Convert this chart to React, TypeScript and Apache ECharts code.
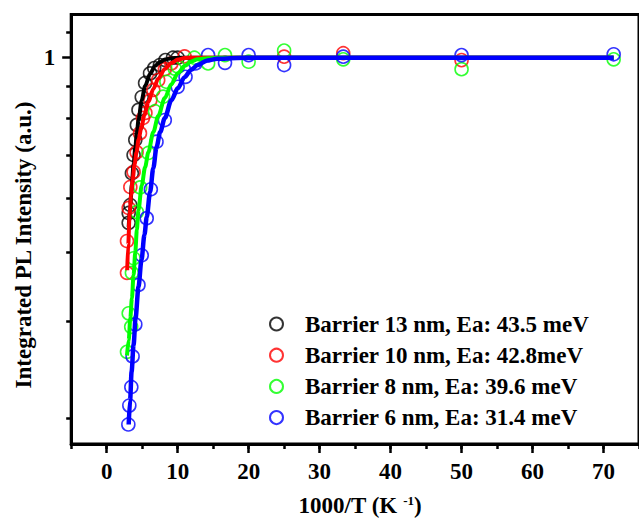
import React, { useEffect, useRef } from "react";
import * as echarts from "echarts";

// ---- data (x = 1000/T in K^-1, y = normalised integrated PL intensity) ----
const black13Points: [number, number][] = [
  [3.10, 0.552], [3.10, 0.571], [3.33, 0.587], [3.55, 0.656], [3.79, 0.700],
  [4.03, 0.739], [4.25, 0.780], [4.48, 0.824], [4.94, 0.864], [5.41, 0.910],
  [6.11, 0.943], [6.70, 0.962], [7.50, 0.973], [8.27, 0.991], [9.34, 1.0], [10.0, 1.0],
];
const red10Points: [number, number][] = [
  [2.86, 0.467], [2.86, 0.519], [3.10, 0.581], [3.33, 0.625], [3.79, 0.659],
  [4.21, 0.707], [4.69, 0.757], [5.11, 0.800], [5.46, 0.815], [6.15, 0.854],
  [6.57, 0.887], [7.26, 0.920], [8.19, 0.958], [9.11, 0.979], [10.97, 1.005],
  [25, 1.004], [33.33, 1.017], [50, 0.991],
];
const green8Points: [number, number][] = [
  [2.86, 0.364], [3.10, 0.410], [3.45, 0.393], [3.55, 0.467], [3.79, 0.490],
  [4.25, 0.573], [4.72, 0.624], [5.87, 0.705], [6.80, 0.820], [7.95, 0.865],
  [8.41, 0.914], [9.58, 0.960], [10.04, 0.967], [12.35, 1.0], [14.29, 0.979],
  [16.67, 1.010], [20, 0.985], [25, 1.027], [33.33, 0.994], [50, 0.958], [71.43, 0.994],
];
const blue6Points: [number, number][] = [
  [3.05, 0.295], [3.19, 0.311], [3.47, 0.328], [3.65, 0.359], [4.03, 0.396],
  [4.48, 0.449], [4.94, 0.495], [5.64, 0.561], [6.22, 0.620], [7.02, 0.734],
  [8.19, 0.794], [10.0, 0.897], [11.11, 0.931], [12.5, 0.979], [14.29, 1.010],
  [16.67, 0.981], [20, 1.010], [25, 0.973], [33.33, 1.004], [50, 1.010], [71.43, 1.013],
];

const black13Fit: [number, number][] = [
  [3.10, 0.544], [3.33, 0.587], [3.55, 0.631], [3.79, 0.677], [4.03, 0.718],
  [4.25, 0.757], [4.48, 0.794], [4.94, 0.854], [5.41, 0.900], [6.11, 0.941],
  [6.80, 0.969], [7.50, 0.984], [8.19, 0.993], [9.11, 0.998], [10.04, 0.999],
  [10.97, 1.0], [71.43, 1.0],
];
const red10Fit: [number, number][] = [
  [2.89, 0.471], [3.03, 0.512], [3.23, 0.567], [3.44, 0.608], [3.65, 0.640],
  [3.93, 0.677], [4.21, 0.707], [4.48, 0.739], [4.90, 0.774], [5.32, 0.809],
  [5.87, 0.848], [6.57, 0.890], [7.26, 0.924], [8.19, 0.959], [9.11, 0.980],
  [10.04, 0.993], [10.97, 0.999], [12.12, 1.0], [71.43, 1.0],
];
const green8Fit: [number, number][] = [
  [2.86, 0.360], [3.10, 0.377], [3.33, 0.404], [3.55, 0.430], [3.79, 0.464],
  [4.03, 0.500], [4.25, 0.539], [4.48, 0.577], [4.94, 0.629], [5.41, 0.670],
  [5.87, 0.707], [6.57, 0.760], [7.26, 0.806], [8.19, 0.861], [9.11, 0.906],
  [10.04, 0.944], [10.97, 0.969], [11.88, 0.986], [12.81, 0.994], [14.20, 0.998],
  [16.28, 1.0], [71.43, 1.0],
];
const blue6Fit: [number, number][] = [
  [3.10, 0.295], [3.30, 0.316], [3.51, 0.343], [3.79, 0.372], [4.07, 0.404],
  [4.48, 0.446], [4.90, 0.487], [5.32, 0.530], [5.64, 0.563], [6.11, 0.614],
  [6.57, 0.668], [7.02, 0.720], [7.54, 0.760], [8.19, 0.800], [9.11, 0.854],
  [10.04, 0.893], [10.97, 0.930], [11.88, 0.955], [12.81, 0.973], [14.20, 0.990],
  [15.59, 0.996], [18.36, 0.999], [21.14, 1.0], [71.43, 1.0],
];

const seriesNames = [
  "Barrier 13 nm, Ea: 43.5 meV",
  "Barrier 10 nm, Ea: 42.8meV",
  "Barrier 8 nm, Ea: 39.6 meV",
  "Barrier 6 nm, Ea: 31.4 meV",
];
const seriesColors = ["#000000", "#ff0000", "#00ff00", "#0000ff"];

const xMajorTicks = [0, 10, 20, 30, 40, 50, 60, 70];
const xRange = [-5, 75];
const yMinorTicks = [1.1, 0.9, 0.8, 0.7, 0.6, 0.5, 0.4, 0.3];
const yLabelTicks = [1];
const yRange = [0.27975, 1.17773];

// the y axis of the original uses an offset-log scale: log10(I - 0.1)
const OFFSET = 0.1;
const toAxis = (v: number) => Math.log10(v - OFFSET);

const FONT = '"Liberation Serif", "Times New Roman", serif';

export default function App() {
  const ref = useRef<HTMLDivElement>(null);

  useEffect(() => {
    document.body.style.margin = "0";
    const chart = echarts.init(ref.current!, null, { renderer: "svg" });
    const tr = (pts: [number, number][]) => pts.map((p) => [p[0], toAxis(p[1])]);
    const points = [black13Points, red10Points, green8Points, blue6Points];
    const fits = [black13Fit, red10Fit, green8Fit, blue6Fit];

    const series: any[] = [];
    for (let i = 0; i < 4; i++) {
      series.push({
        name: "fit" + i,
        type: "line",
        xAxisIndex: 0,
        yAxisIndex: 0,
        data: tr(fits[i]),
        showSymbol: false,
        smooth: 0.3,
        smoothMonotone: "x",
        lineStyle: { color: seriesColors[i], width: i === 3 ? 4.5 : 4 },
        silent: true,
      });
      series.push({
        name: seriesNames[i],
        type: "scatter",
        xAxisIndex: 0,
        yAxisIndex: 0,
        data: tr(points[i]),
        symbol: "circle",
        symbolSize: 13,
        itemStyle: {
          color: "rgba(0,0,0,0)",
          borderColor: seriesColors[i],
          borderWidth: 1.6,
        },
      });
    }

    const labelStyle = {
      color: "#000",
      fontFamily: FONT,
      fontWeight: "bold" as const,
      fontSize: 23,
    };

    chart.setOption({
      animation: false,
      backgroundColor: "#fff",
      grid: {
        left: 71.2,
        right: -8.5,
        top: 14.5,
        bottom: 74,
        show: true,
        borderColor: "#000",
        borderWidth: 3,
        containLabel: false,
      },
      legend: {
        data: seriesNames,
        orient: "vertical",
        left: 269,
        top: 312.5,
        padding: 0,
        itemGap: 8.2,
        itemWidth: 13,
        itemHeight: 13,
        icon: "circle",
        textStyle: { ...labelStyle, lineHeight: 23, padding: [0, 0, 0, 17] },
      },
      xAxis: [
        {
          type: "value",
          min: xRange[0],
          max: xRange[1],
          interval: 5,
          position: "bottom",
          axisLine: { show: true, onZero: false, lineStyle: { color: "#000", width: 3 } },
          axisTick: { show: true, length: 5, lineStyle: { color: "#000", width: 2.5 } },
          axisLabel: { show: false },
          splitLine: { show: false },
        },
        {
          type: "value",
          min: xRange[0],
          max: xRange[1],
          position: "bottom",
          axisLine: { show: false, onZero: false },
          axisTick: {
            show: true,
            length: 9,
            customValues: xMajorTicks,
            lineStyle: { color: "#000", width: 2.5 },
          },
          axisLabel: {
            show: true,
            customValues: xMajorTicks,
            margin: 16,
            formatter: (v: number) => String(v),
            ...labelStyle,
          },
          splitLine: { show: false },
        },
      ],
      yAxis: [
        {
          type: "value",
          min: toAxis(yRange[0]),
          max: toAxis(yRange[1]),
          position: "left",
          axisLine: { show: true, onZero: false, lineStyle: { color: "#000", width: 3 } },
          axisTick: {
            show: true,
            length: 5,
            customValues: yMinorTicks.map(toAxis),
            lineStyle: { color: "#000", width: 2.5 },
          },
          axisLabel: { show: false },
          splitLine: { show: false },
        },
        {
          type: "value",
          min: toAxis(yRange[0]),
          max: toAxis(yRange[1]),
          position: "left",
          axisLine: { show: false, onZero: false },
          axisTick: {
            show: true,
            length: 9,
            customValues: yLabelTicks.map(toAxis),
            lineStyle: { color: "#000", width: 2.5 },
          },
          axisLabel: {
            show: true,
            customValues: yLabelTicks.map(toAxis),
            margin: 16,
            formatter: () => String(yLabelTicks[0]),
            ...labelStyle,
          },
          splitLine: { show: false },
        },
      ],
      graphic: [
        {
          type: "text",
          x: 23,
          y: 245,
          rotation: Math.PI / 2,
          style: {
            text: "Integrated PL Intensity (a.u.)",
            font: `bold 23px ${FONT}`,
            fill: "#000",
            align: "center",
            verticalAlign: "middle",
          },
        },
        {
          type: "text",
          x: 360,
          y: 505,
          style: {
            text: "{a|1000/T (K }{s|-1}{a|)}",
            fill: "#000",
            align: "center",
            verticalAlign: "middle",
            rich: {
              a: { fontFamily: FONT, fontWeight: "bold", fontSize: 23, fill: "#000" },
              s: { fontFamily: FONT, fontWeight: "bold", fontSize: 13, fill: "#000", verticalAlign: "top" },
            },
          },
        },
      ],
      series,
    });

    return () => chart.dispose();
  }, []);

  return <div ref={ref} style={{ width: 639, height: 518 }} />;
}
